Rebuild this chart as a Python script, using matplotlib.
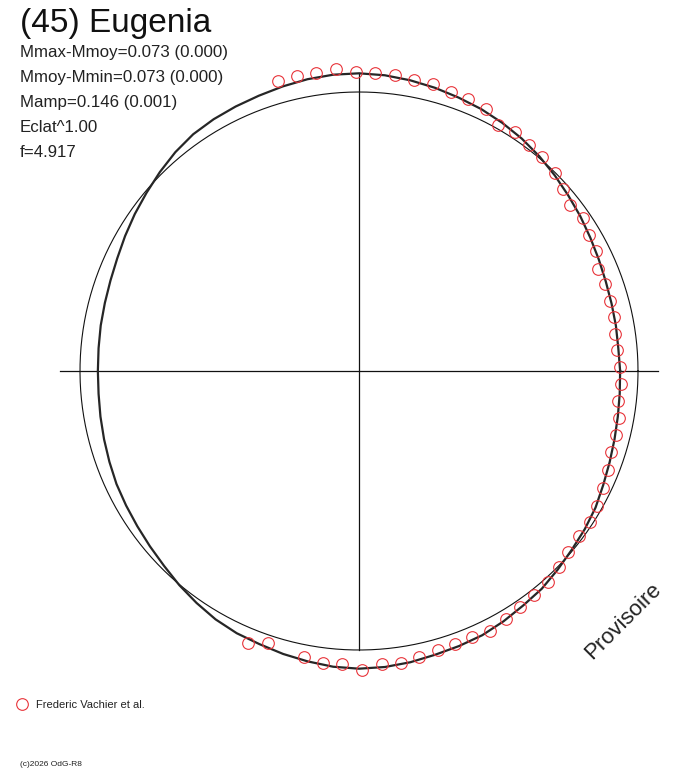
import numpy as np
import matplotlib
matplotlib.use("Agg")
import matplotlib.pyplot as plt

plt.rcParams['font.family'] = ['Liberation Sans', 'DejaVu Sans']

# fitted light curve, read every 5 deg of phase angle (radius relative to mean circle)
curve_angle = list(range(0, 360, 5))
curve_r = [0.936, 0.933, 0.935, 0.937, 0.941, 0.948, 0.957, 0.968, 0.979, 0.992,
           1.005, 1.017, 1.027, 1.036, 1.043, 1.051, 1.058, 1.064, 1.067, 1.066,
           1.062, 1.056, 1.050, 1.046, 1.042, 1.036, 1.024, 1.009, 0.994, 0.981,
           0.968, 0.956, 0.948, 0.943, 0.940, 0.937, 0.936, 0.937, 0.941, 0.946,
           0.952, 0.959, 0.964, 0.970, 0.978, 0.988, 1.002, 1.015, 1.028, 1.037,
           1.042, 1.050, 1.057, 1.064, 1.067, 1.065, 1.060, 1.053, 1.049, 1.045,
           1.036, 1.026, 1.019, 1.007, 0.996, 0.988, 0.979, 0.966, 0.956, 0.948,
           0.942, 0.938]

# observations (Frederic Vachier et al.)
obs_angle = [105.5, 101.9, 98.2, 94.4, 90.6, 86.9, 83.1, 79.2, 75.5, 71.7, 68.1, 64.2, 60.5,
             56.9, 53.1, 49.4, 45.4, 41.7, 38.1, 34.4, 30.6, 26.8, 23.1, 19.5, 15.7, 12.0,
             8.3, 4.7, 0.8, -2.9, -6.6, -10.2, -14.0, -17.9, -21.7, -25.6, -29.5, -33.3,
             -36.9, -40.8, -44.4, -48.2, -51.9, -55.7, -59.3, -63.2, -67.0, -70.6, -74.3,
             -78.1, -81.9, -85.6, -89.4, -93.3, -97.0, -100.9, -108.4, -112.2]
obs_r = [1.080, 1.080, 1.078, 1.085, 1.071, 1.068, 1.068, 1.061, 1.064, 1.052, 1.050, 1.042,
         1.015, 1.024, 1.014, 1.009, 0.998, 0.981, 0.962, 0.971, 0.959, 0.953, 0.932, 0.936,
         0.933, 0.935, 0.928, 0.928, 0.937, 0.939, 0.933, 0.948, 0.950, 0.950, 0.961, 0.971,
         0.981, 0.989, 0.985, 0.991, 1.004, 1.015, 1.019, 1.023, 1.033, 1.043, 1.036, 1.038,
         1.040, 1.046, 1.056, 1.054, 1.073, 1.053, 1.053, 1.045, 1.029, 1.052]

title = "(45) Eugenia"
info = ["Mmax-Mmoy=0.073 (0.000)", "Mmoy-Mmin=0.073 (0.000)", "Mamp=0.146 (0.001)",
        "Eclat^1.00", "f=4.917"]

W, H = 688, 768
cx, cy, R0 = 359, 371, 279.0

fig = plt.figure(figsize=(W / 100, H / 100), dpi=100)
ax = fig.add_axes([0, 0, 1, 1])
ax.set_xlim(-cx / R0, (W - cx) / R0)
ax.set_ylim(-(H - cy) / R0, cy / R0)
ax.axis('off')

# axes cross
ax.plot([-1.072, 1.072], [0, 0], color='#111111', lw=0.9)
ax.plot([0, 0], [-1.0, 1.067], color='#111111', lw=0.9)

# mean circle
t = np.linspace(0, 2 * np.pi, 400)
ax.plot(np.cos(t), np.sin(t), color='#111111', lw=0.8)

# light curve
a = np.radians(curve_angle + curve_angle[:1])
r = np.array(curve_r + curve_r[:1])
ax.plot(r * np.cos(a), r * np.sin(a), color='#262626', lw=1.6)

# observations
oa = np.radians(obs_angle)
orr = np.array(obs_r)
ax.plot(orr * np.cos(oa), orr * np.sin(oa), 'o', ms=8.4, mfc='none', mec='#e8343a', mew=0.8)

# texts
fig.text(20 / W, 1 - 32 / H, title, fontsize=24, va='baseline', color='#111111')
for i, s in enumerate(info):
    fig.text(20 / W, 1 - (57 + 25 * i) / H, s, fontsize=12.2, va='baseline', color='#222222')

fig.text(623 / W, 1 - 621 / H, "Provisoire", fontsize=16, rotation=45,
         ha='center', va='center', color='#222222')

# legend
ax.plot([(22 - cx) / R0], [(cy - 704) / R0], 'o', ms=8.4, mfc='none', mec='#e8343a', mew=0.8)
fig.text(36 / W, 1 - 708 / H, "Frederic Vachier et al.", fontsize=8, va='baseline', color='#222222')
fig.text(20 / W, 1 - 766 / H, "(c)2026 OdG-R8", fontsize=6, va='baseline', color='#222222')

fig.savefig("out.png", dpi=100, facecolor='white')
